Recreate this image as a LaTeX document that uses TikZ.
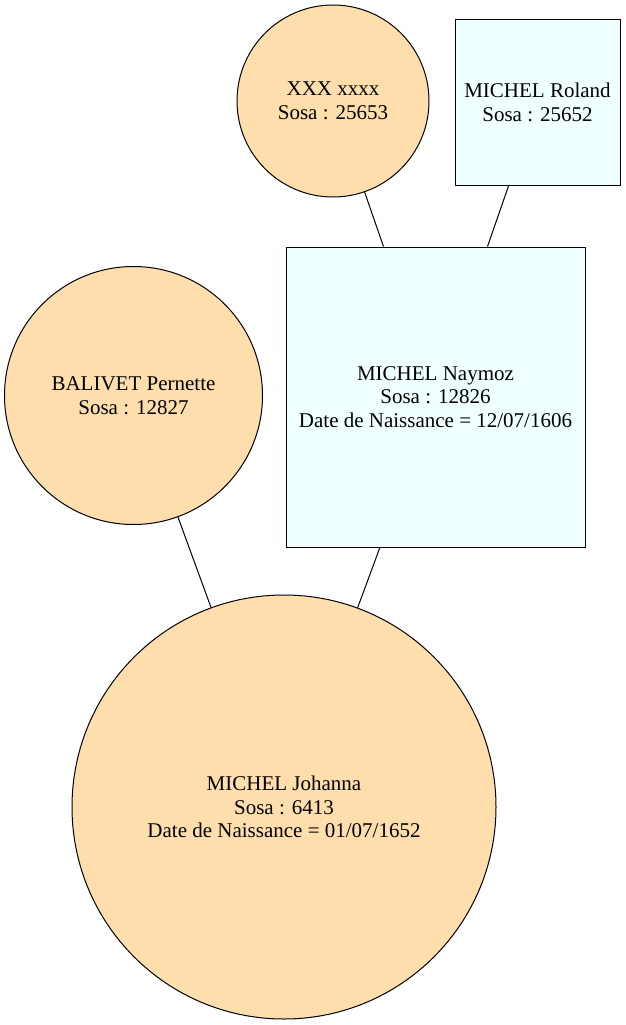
\documentclass[tikz,border=0pt]{standalone}
\usepackage{fontspec}
\setmainfont{Liberation Serif}
\definecolor{circfill}{HTML}{FFDEAD}
\definecolor{boxfill}{HTML}{F0FFFF}
\begin{document}
\begin{tikzpicture}[x=1pt,y=-1pt,
  every node/.style={font=\fontsize{21}{23.5}\selectfont, align=center, inner sep=0pt, draw=black, line width=1pt},
  person/.style={circle, fill=circfill},
  personbox/.style={rectangle, fill=boxfill},
  link/.style={draw=black, line width=1pt}]
\useasboundingbox (0,0) rectangle (626,1025);
\node[person, minimum size=192] (xxx) at (333,101) {XXX xxxx\\Sosa : 25653};
\node[personbox, minimum width=165, minimum height=165] (roland) at (537.5,102.5) {MICHEL Roland\\Sosa : 25652};
\node[personbox, minimum width=299, minimum height=300] (naymoz) at (435.5,397) {MICHEL Naymoz\\Sosa : 12826\\Date de Naissance = 12/07/1606};
\node[person, minimum size=258] (balivet) at (133.5,395.5) {BALIVET Pernette\\Sosa : 12827};
\node[person, minimum size=424] (johanna) at (284,807) {MICHEL Johanna\\Sosa : 6413\\Date de Naissance = 01/07/1652};
\draw[link] (xxx) -- (naymoz);
\draw[link] (roland) -- (naymoz);
\draw[link] (balivet) -- (johanna);
\draw[link] (naymoz) -- (johanna);
\end{tikzpicture}
\end{document}
